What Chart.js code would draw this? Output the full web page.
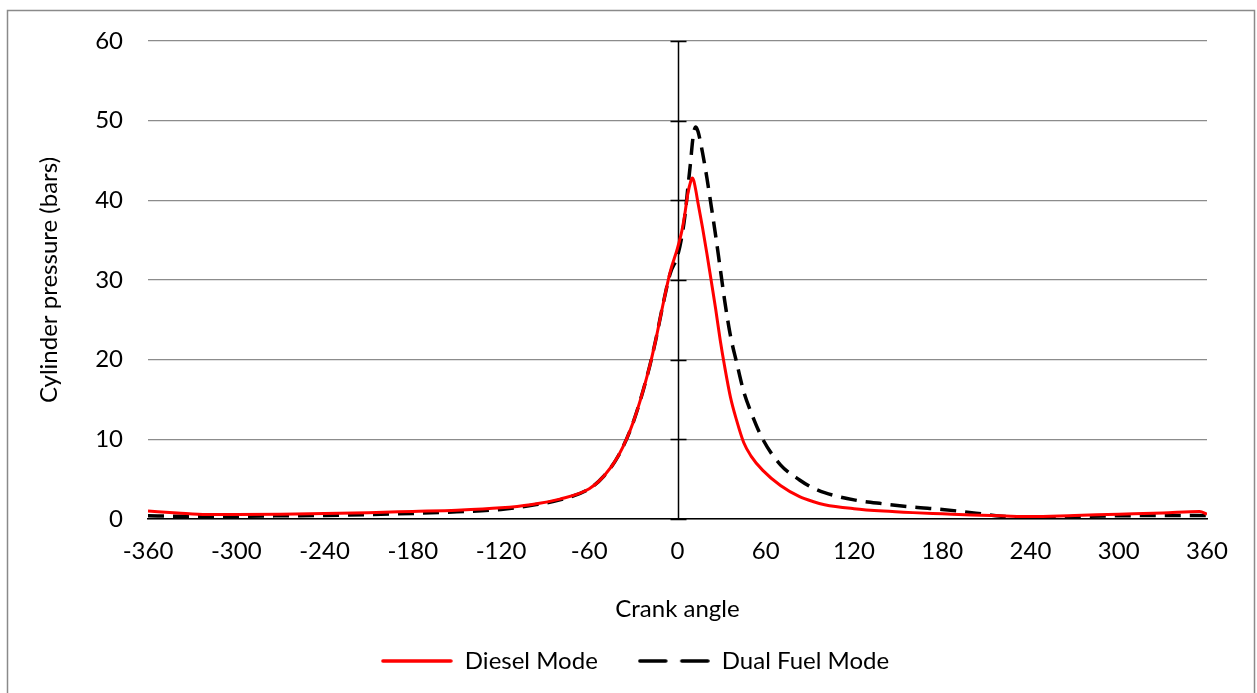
<!DOCTYPE html>
<html>
<head>
<meta charset="utf-8">
<script src="https://cdn.jsdelivr.net/npm/chart.js@4/dist/chart.umd.min.js"></script>
<style>
  html, body { margin: 0; padding: 0; background: #ffffff; }
  #wrap { width: 1257px; height: 693px; position: relative; }
</style>
</head>
<body>
<div id="wrap"><canvas id="c" width="1257" height="693"></canvas></div>
<script>
// ---- Data ----
const crankAngles = [-360,-340,-320,-300,-270,-240,-210,-180,-150,-120,-100,-80,-60,-50,-40,-30,-20,-15,-10,-5,
  0,3,5,7,9,10,11,12.5,14,17,20,23,26,29,32,36,40,45,50,58,70,83,92,100,120,140,160,180,200,220,240,270,300,330,355,360];
const dieselMode = [1.0,0.75,0.55,0.55,0.6,0.7,0.8,0.95,1.1,1.4,1.8,2.5,3.8,5.4,8.0,12.2,18.4,22.3,26.8,31,
  34,36.2,38.3,40.8,42.4,42.8,42.5,41.2,39.6,36.6,33.3,29.8,26.3,22.5,19.2,15.3,12.5,9.6,7.9,6.1,4.2,2.8,2.2,1.8,1.3,1.0,0.8,0.65,0.5,0.4,0.3,0.45,0.6,0.75,0.95,0.6];
const dualFuelMode = [0.4,0.35,0.35,0.35,0.4,0.45,0.55,0.7,0.9,1.2,1.7,2.4,3.8,5.4,8.0,12.2,18.4,22.3,26.8,30.8,
  33,35.5,38,41.5,45,47,48.5,49.2,48.6,46,42.8,39.2,35.5,31.5,27.5,23,19.8,16,13.4,10,6.8,4.9,3.9,3.3,2.4,1.9,1.5,1.2,0.8,0.35,0.15,0.3,0.4,0.45,0.45,0.45];
const seriesNames = ['Diesel Mode', 'Dual Fuel Mode'];
const xTitle = 'Crank angle';
const yTitle = 'Cylinder pressure (bars)';
const xMin = -360, xMax = 360, xStep = 60;
const yMin = 0, yMax = 60, yStep = 10;

Chart.defaults.font.family = 'Lato, "Open Sans", sans-serif';
Chart.defaults.font.size = 24;
Chart.defaults.color = '#000000';

function legendSwatch(color, dash) {
  const cv = document.createElement('canvas');
  cv.width = 72; cv.height = 8;
  const g = cv.getContext('2d');
  g.strokeStyle = color; g.lineWidth = 3.5; g.lineCap = 'round';
  g.setLineDash(dash);
  g.beginPath(); g.moveTo(2, 4); g.lineTo(70, 4); g.stroke();
  return cv;
}
const swatches = [legendSwatch('#ff0000', []), legendSwatch('#000000', [26, 16])];

const toXY = (vals) => crankAngles.map((a, i) => ({x: a, y: vals[i]}));

const framePlugin = {
  id: 'frame',
  beforeDraw(chart) {
    const ctx = chart.ctx;
    ctx.save();
    ctx.fillStyle = '#ffffff';
    ctx.fillRect(0, 0, chart.width, chart.height);
    ctx.strokeStyle = '#8a8a8a';
    ctx.lineWidth = 1.5;
    ctx.strokeRect(7.5, 10.5, 1247, 720);
    ctx.restore();
  },
  beforeDatasetsDraw(chart) {
    const ctx = chart.ctx;
    const xs = chart.scales.x, ys = chart.scales.y;
    const x0 = Math.round(xs.getPixelForValue(0)) + 0.5;
    ctx.save();
    ctx.strokeStyle = '#000000';
    ctx.lineWidth = 1.5;
    ctx.beginPath();
    ctx.moveTo(x0, ys.getPixelForValue(yMax));
    ctx.lineTo(x0, ys.getPixelForValue(yMin));
    for (let v = yMin; v <= yMax; v += yStep) {
      const py = Math.round(ys.getPixelForValue(v)) + 0.5;
      ctx.moveTo(x0 - 8, py);
      ctx.lineTo(x0 + 8, py);
    }
    ctx.stroke();
    ctx.restore();
  }
};

new Chart(document.getElementById('c'), {
  type: 'line',
  data: {
    datasets: [
      {
        label: seriesNames[0],
        data: toXY(dieselMode),
        borderColor: '#ff0000',
        backgroundColor: '#ff0000',
        borderWidth: 3,
        pointRadius: 0,
        cubicInterpolationMode: 'monotone',
        fill: false
      },
      {
        label: seriesNames[1],
        data: toXY(dualFuelMode),
        borderColor: '#000000',
        backgroundColor: '#000000',
        borderWidth: 3.5,
        borderDash: [16, 9],
        pointRadius: 0,
        cubicInterpolationMode: 'monotone',
        fill: false
      }
    ]
  },
  options: {
    responsive: false,
    animation: false,
    events: [],
    layout: { padding: { left: 20, right: 7, top: 41, bottom: 10 } },
    scales: {
      x: {
        type: 'linear',
        min: xMin, max: xMax,
        ticks: { stepSize: xStep, padding: 18, font: { size: 24 }, maxRotation: 0 },
        grid: { display: false, drawTicks: false },
        border: { display: true, color: '#000000', width: 1.5 },
        title: { display: true, text: xTitle, font: { size: 24 }, padding: { top: 0, bottom: -15 } },
        afterFit(s) { s.height = 90; }
      },
      y: {
        type: 'linear',
        position: 'left',
        min: yMin, max: yMax,
        ticks: { stepSize: yStep, padding: 25, font: { size: 24 } },
        grid: { color: '#8c8c8c', lineWidth: 1.3, drawTicks: false },
        border: { display: false },
        title: { display: true, text: yTitle, font: { size: 24 }, padding: { top: 15, bottom: 0 } },
        afterFit(s) { s.width = 128; }
      },
      y2: {
        type: 'linear',
        position: 'right',
        display: true,
        ticks: { display: false },
        grid: { display: false, drawTicks: false },
        border: { display: false },
        afterFit(s) { s.width = 43; }
      }
    },
    plugins: {
      tooltip: { enabled: false },
      legend: {
        position: 'bottom',
        labels: {
          usePointStyle: true,
          pointStyleWidth: 72,
          padding: 40,
          font: { size: 24 },
          color: '#000000',
          generateLabels(chart) {
            return chart.data.datasets.map((ds, i) => ({
              text: ds.label,
              pointStyle: swatches[i],
              fillStyle: ds.borderColor,
              strokeStyle: ds.borderColor,
              lineWidth: 0,
              hidden: false,
              datasetIndex: i
            }));
          }
        }
      }
    }
  },
  plugins: [framePlugin]
});
</script>
</body>
</html>
